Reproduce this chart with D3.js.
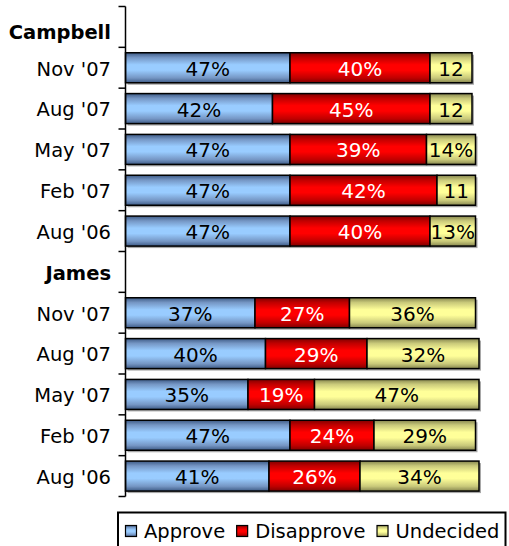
<!DOCTYPE html>
<html>
<head>
<meta charset="utf-8">
<script src="https://cdn.jsdelivr.net/npm/d3@7/dist/d3.min.js"></script>
<style>
  html, body { margin: 0; padding: 0; background: #fff; }
  svg { display: block; font-family: "DejaVu Sans", Verdana, sans-serif; }
</style>
</head>
<body>
<svg id="chart" width="509" height="546"></svg>
<script>
// ---- data ----
const categories = ["Campbell", "Nov '07", "Aug '07", "May '07", "Feb '07", "Aug '06",
                    "James", "Nov '07", "Aug '07", "May '07", "Feb '07", "Aug '06"];
const headerRows = [0, 6];
const approve    = [null, 47, 42, 47, 47, 47, null, 37, 40, 35, 47, 41];
const disapprove = [null, 40, 45, 39, 42, 40, null, 27, 29, 19, 24, 26];
const undecided  = [null, 12, 12, 14, 11, 13, null, 36, 32, 47, 29, 34];
const undecidedLabels = ["", "12", "12", "14%", "11", "13%", "", "36%", "32%", "47%", "29%", "34%"];
const seriesNames = ["Approve", "Disapprove", "Undecided"];

// ---- styles ----
const gradStops = {
  Approve:    ["#3d5a85", "#7596c4", "#99ccff"],
  Disapprove: ["#800000", "#c00000", "#ff0000"],
  Undecided:  ["#86864f", "#c9c97a", "#ffff99"]
};
const labelColors = { Approve: "#000", Disapprove: "#fff", Undecided: "#000" };

const svg = d3.select("#chart");
const defs = svg.append("defs");
seriesNames.forEach((s, i) => {
  const g = defs.append("linearGradient").attr("id", "g" + i)
    .attr("x1", 0).attr("y1", 0).attr("x2", 0).attr("y2", 1);
  const [dark, mid, light] = gradStops[s];
  [[0, dark], [16, mid], [40, light], [58, light], [84, mid], [100, dark]].forEach(([o, c]) =>
    g.append("stop").attr("offset", o + "%").attr("stop-color", c));
});

const x = d3.scaleLinear().domain([0, 100]).range([125.5, 475.5]);
const y = d3.scaleBand().domain(d3.range(categories.length))
  .range([6.5, 496.5]).paddingInner(0.265).paddingOuter(0.1325);

// stack
const rows = categories.map((c, i) => ({ i, Approve: approve[i], Disapprove: disapprove[i], Undecided: undecided[i] }))
  .filter(d => d.Approve != null);
const stack = d3.stack().keys(seriesNames)(rows);

// shadows
svg.append("g").selectAll("rect").data(rows).join("rect")
  .attr("x", d => x(0) + 2)
  .attr("y", d => y(d.i) + 2)
  .attr("width", d => x(d.Approve + d.Disapprove + d.Undecided) - x(0))
  .attr("height", y.bandwidth())
  .attr("fill", "#a8a8a8");

stack.forEach((layer, si) => {
  const s = seriesNames[si];
  const g = svg.append("g");
  g.selectAll("rect").data(layer).join("rect")
    .attr("x", d => x(d[0]))
    .attr("y", d => y(d.data.i))
    .attr("width", d => x(d[1]) - x(d[0]))
    .attr("height", y.bandwidth())
    .attr("fill", `url(#g${si})`)
    .attr("stroke", "#000")
    .attr("stroke-width", 1.5);
  g.selectAll("text").data(layer).join("text")
    .attr("x", d => (x(d[0]) + x(d[1])) / 2)
    .attr("y", d => y(d.data.i) + y.bandwidth() / 2)
    .attr("dy", "0.4em")
    .attr("text-anchor", "middle")
    .attr("font-size", 20)
    .attr("fill", labelColors[s])
    .text(d => s === "Undecided" ? undecidedLabels[d.data.i] : d.data[s] + "%");
});

// axis
const axisG = svg.append("g").attr("stroke", "#000").attr("stroke-width", 1.5);
const r = y.range(), step = y.step();
axisG.append("line").attr("x1", x(0)).attr("x2", x(0)).attr("y1", r[0]).attr("y2", r[1]);
axisG.selectAll("line.tick").data(d3.range(categories.length + 1)).join("line")
  .attr("class", "tick")
  .attr("x1", x(0) - 7).attr("x2", x(0))
  .attr("y1", k => r[0] + k * step).attr("y2", k => r[0] + k * step);

svg.append("g").selectAll("text").data(categories).join("text")
  .attr("x", 111)
  .attr("y", (c, i) => y(i) + y.bandwidth() / 2 + (i === 0 ? 4 : 0))
  .attr("dy", "0.4em")
  .attr("text-anchor", "end")
  .attr("font-size", 19.5)
  .attr("font-weight", (c, i) => headerRows.includes(i) ? "bold" : "normal")
  .attr("fill", "#000")
  .text(c => c);

// legend
const leg = svg.append("g");
leg.append("rect").attr("x", 118).attr("y", 512.5).attr("width", 387.5).attr("height", 60)
  .attr("fill", "#fff").attr("stroke", "#000").attr("stroke-width", 2);
let lx = 125;
seriesNames.forEach((s, i) => {
  leg.append("rect").attr("x", lx + 0.5).attr("y", 525.5).attr("width", 11).attr("height", 11)
    .attr("fill", `url(#g${i})`).attr("stroke", "#000").attr("stroke-width", 1.2);
  const t = leg.append("text").attr("x", lx + 19).attr("y", 538)
    .attr("font-size", 19.5).attr("fill", "#000").text(s);
  lx = lx + 19 + t.node().getComputedTextLength() + 11;
});
</script>
</body>
</html>
